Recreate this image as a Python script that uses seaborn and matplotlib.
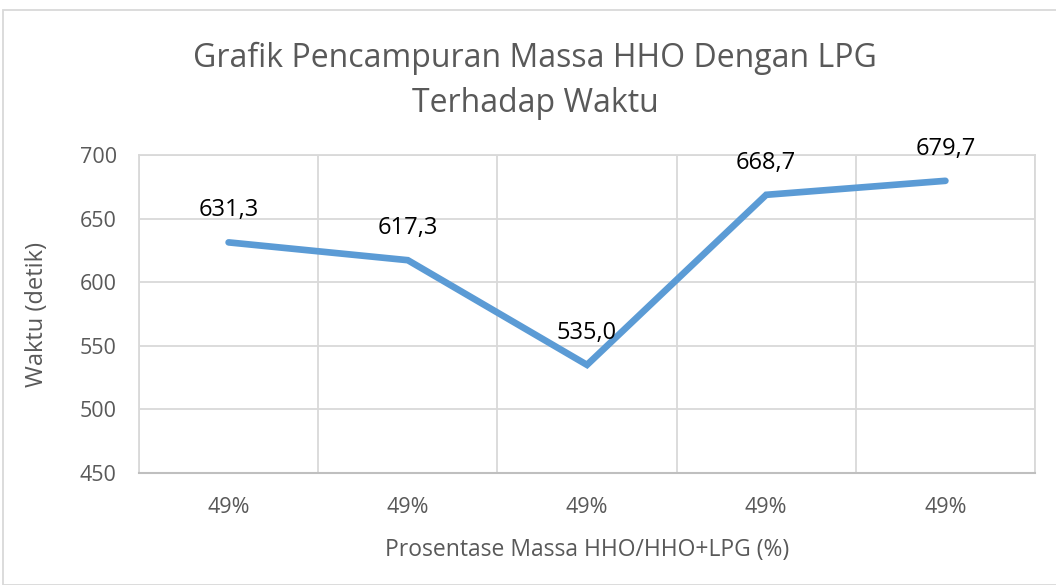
import matplotlib
matplotlib.use("Agg")
import matplotlib.pyplot as plt
import seaborn as sns
import pandas as pd
from matplotlib.patches import Rectangle

categories = ['49%', '49%', '49%', '49%', '49%']
waktu = [631.3, 617.3, 535.0, 668.7, 679.7]
value_labels = ['631,3', '617,3', '535,0', '668,7', '679,7']

df = pd.DataFrame({'pos': range(len(categories)), 'Waktu': waktu})

sns.set_theme(style="white")
plt.rcParams['font.family'] = ['Open Sans', 'DejaVu Sans']

fig = plt.figure(figsize=(10.56, 5.85), dpi=100)
ax = fig.add_axes([139 / 1056, 1 - 473 / 585, (1035 - 139) / 1056, (473 - 155) / 585])

sns.lineplot(data=df, x='pos', y='Waktu', ax=ax, color='#5B9BD5', linewidth=4.8,
             solid_capstyle='round', solid_joinstyle='miter')

for i, (v, lab) in enumerate(zip(waktu, value_labels)):
    ax.annotate(lab, (i, v), xytext=(0, 23), textcoords='offset points',
                ha='center', va='center', fontsize=17, color='black')

ax.set_xlim(-0.5, len(categories) - 0.5)
ax.set_ylim(450, 700)
ax.set_yticks(range(450, 701, 50))
ax.set_xticks(range(len(categories)))
ax.set_xticklabels(categories)
ax.set_xticks([i + 0.5 for i in range(-1, len(categories))], minor=True)
ax.tick_params(axis='both', which='both', length=0, labelsize=15.5, colors='#595959')
ax.tick_params(axis='x', pad=17)
ax.tick_params(axis='y', pad=16)
ax.grid(True, axis='y', color='#D9D9D9', linewidth=1.3)
ax.grid(True, axis='x', which='minor', color='#D9D9D9', linewidth=1.3)
ax.grid(False, axis='x', which='major')

for s in ['top', 'right', 'left']:
    ax.spines[s].set_color('#D9D9D9')
    ax.spines[s].set_linewidth(1.3)
ax.spines['bottom'].set_color('#BFBFBF')
ax.spines['bottom'].set_linewidth(1.5)

ax.set_xlabel('Prosentase Massa HHO/HHO+LPG (%)', fontsize=16.5, color='#595959', labelpad=15)
ax.set_ylabel('Waktu (detik)', fontsize=17, color='#595959', labelpad=22)

fig.text(535 / 1056, 1 - 81 / 585, 'Grafik Pencampuran Massa HHO Dengan LPG\nTerhadap Waktu',
         ha='center', va='center', fontsize=23, color='#595959', linespacing=1.45)

fig.patches.append(Rectangle((3 / 1056, 0), 1060 / 1056, 1 - 10 / 585, transform=fig.transFigure,
                             fill=False, edgecolor='#D9D9D9', linewidth=1.3))

fig.savefig('out.png', dpi=100)
